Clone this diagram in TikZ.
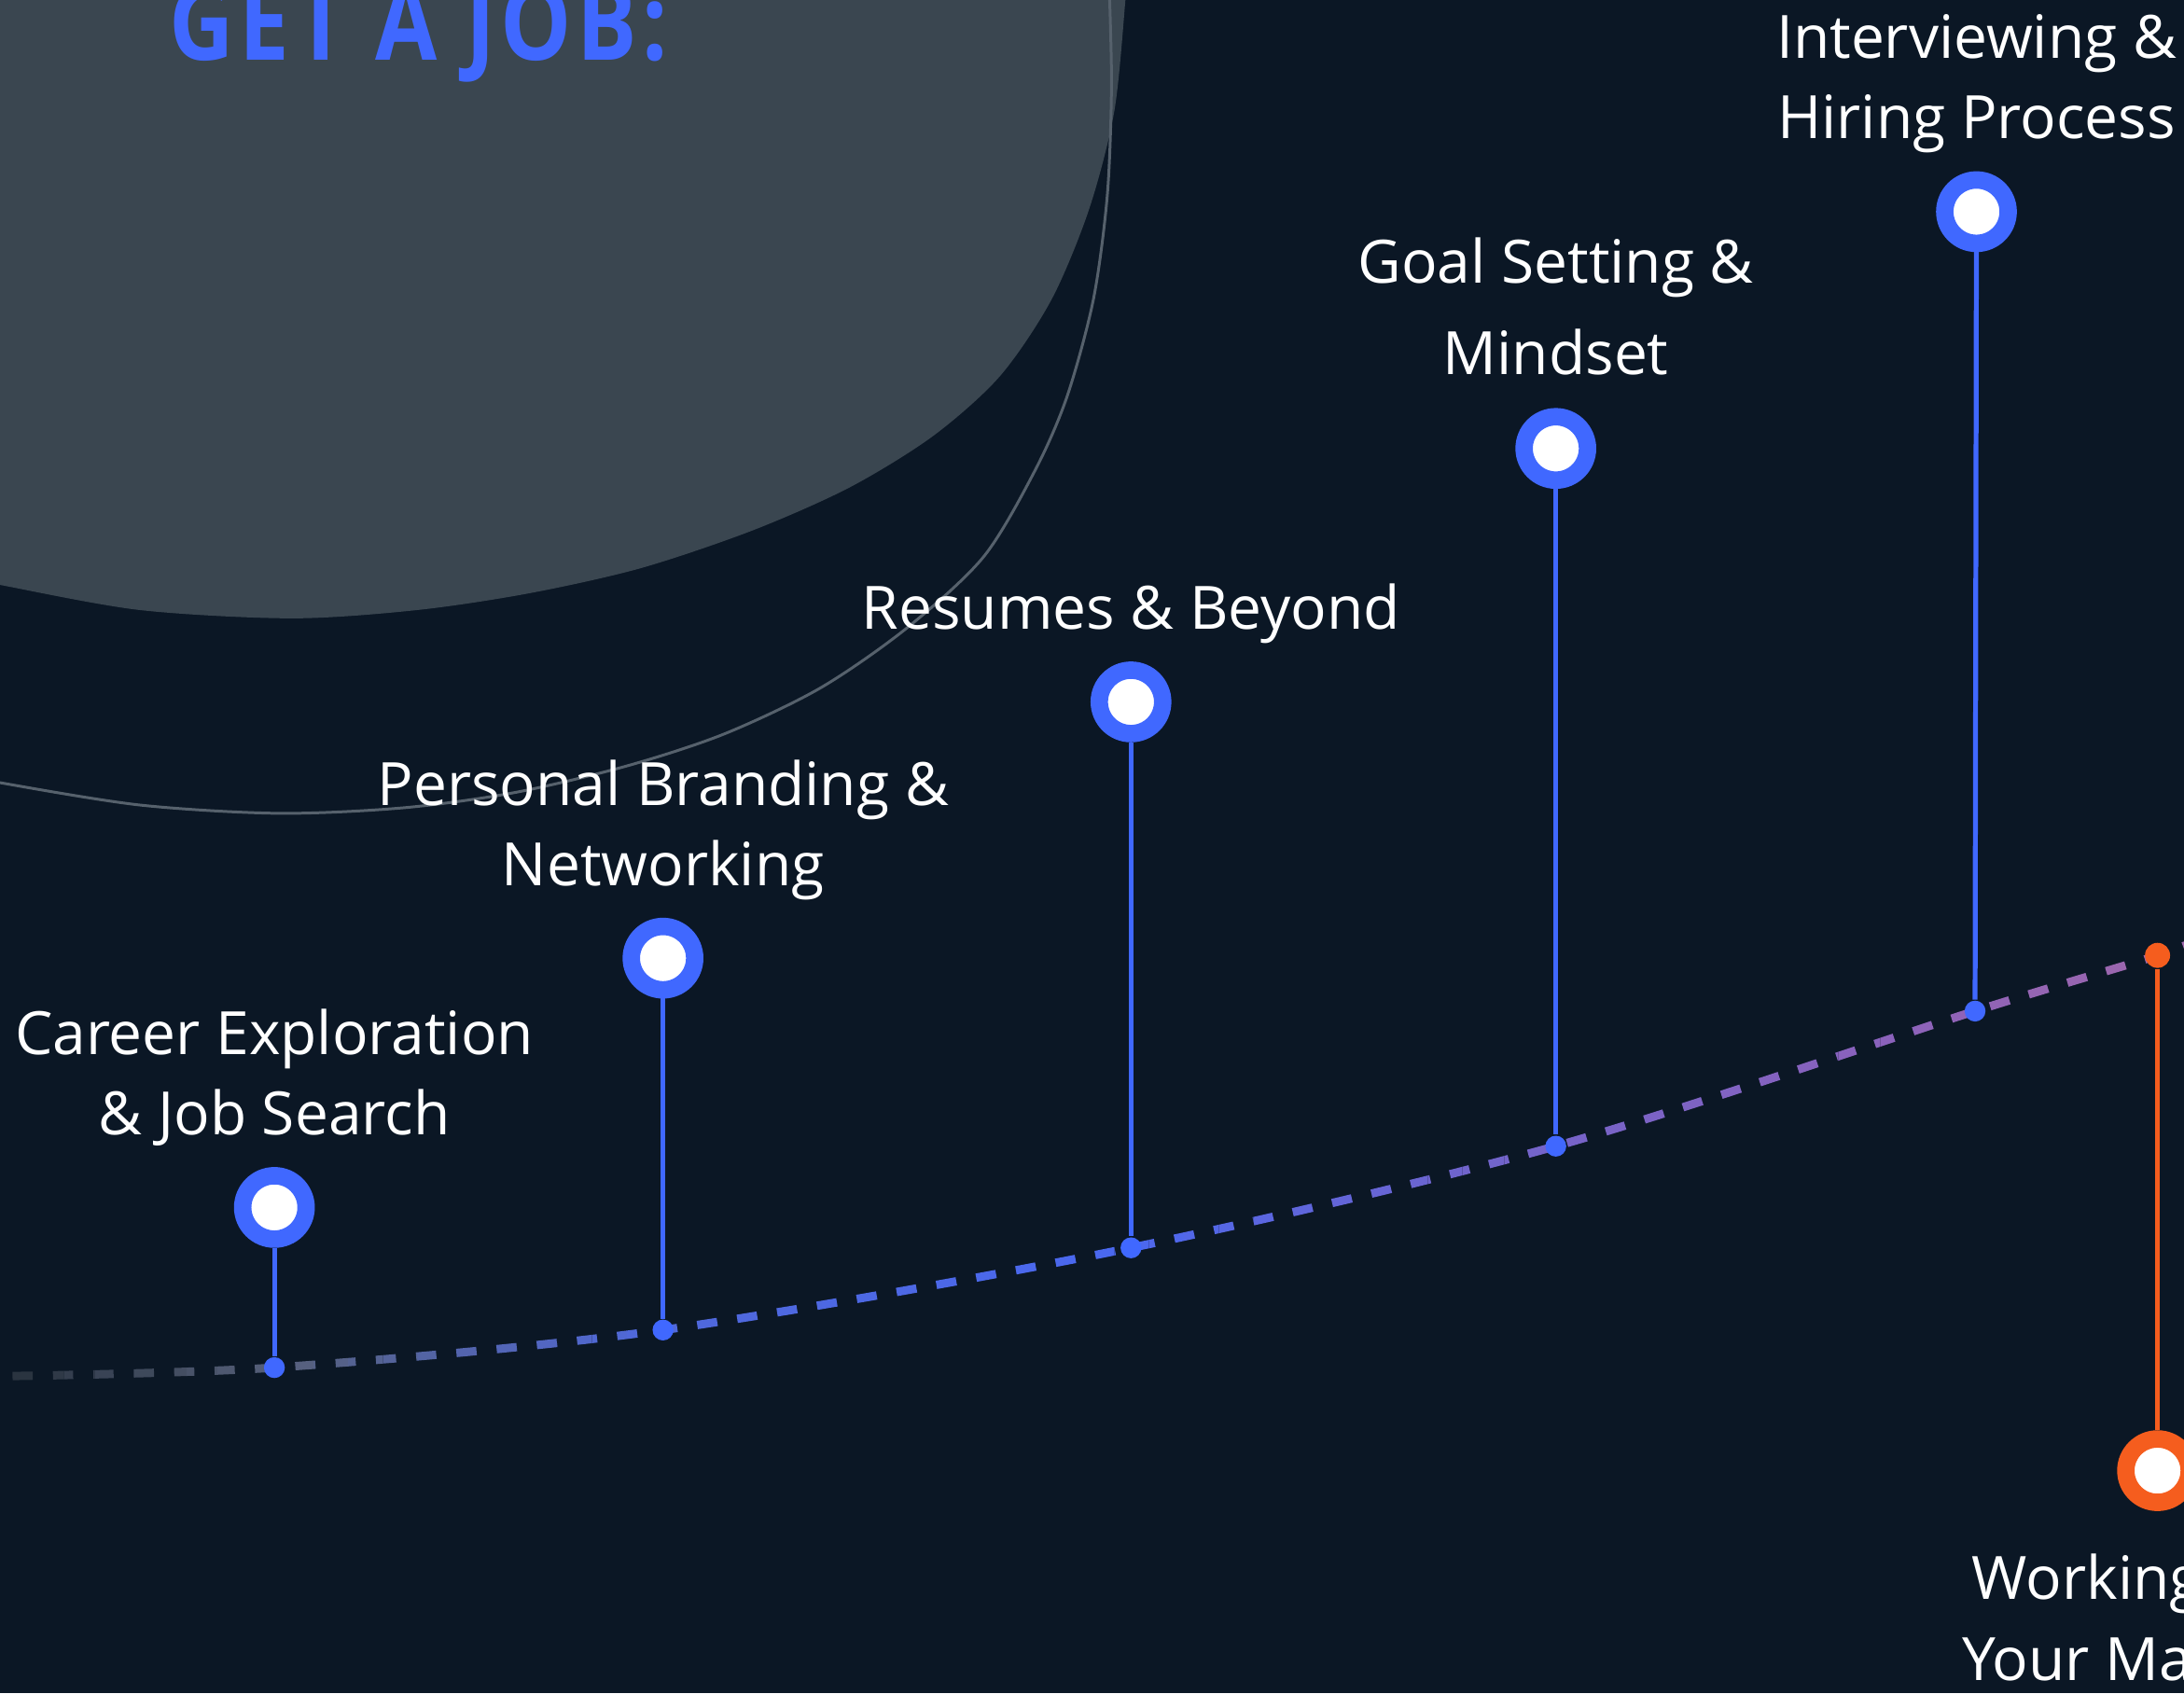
\documentclass[tikz,border=0pt]{standalone}
\usepackage{fontspec}
\setmainfont{Open Sans}
\newfontfamily\titlefont{Open Sans}[FakeStretch=0.85,LetterSpace=5]
\usetikzlibrary{positioning}

\definecolor{navy}{HTML}{0B1725}
\definecolor{blobgray}{HTML}{3A4650}
\definecolor{arcgray}{HTML}{56616C}
\definecolor{ringblue}{HTML}{4068FF}
\definecolor{ringorange}{HTML}{F55D1E}
\definecolor{trackA}{HTML}{222C36}
\definecolor{trackB}{HTML}{56607A}
\definecolor{trackC}{HTML}{5068D8}
\definecolor{trackD}{HTML}{4A68F0}
\definecolor{trackE}{HTML}{7064CC}
\definecolor{trackF}{HTML}{8A62BC}
\definecolor{trackG}{HTML}{A268A8}

\tikzstyle{milestone}=[circle,draw=ringblue,fill=white,line width=0.125cm,minimum size=0.455cm,inner sep=0pt]
\tikzstyle{dot}=[circle,fill=ringblue,minimum size=0.15cm,inner sep=0pt]
\tikzstyle{stem}=[draw=ringblue,line width=0.035cm]
\tikzstyle{steplabel}=[text=white,align=center,inner sep=0pt,anchor=base,font=\fontsize{12.2}{16.4}\selectfont]
\tikzstyle{track}=[line width=0.06cm,dash pattern=on 0.145cm off 0.145cm]

\newcommand\trackcurve{plot[smooth,tension=0.5] coordinates {(-20,988.5) (197,982) (476,955) (812,896) (1117,823) (1418,726) (1549,686) (1600,666)}}

\begin{document}
\begin{tikzpicture}[x=0.01cm,y=-0.01cm]
  \useasboundingbox (0,0) rectangle (1568,1216);
  \fill[navy] (0,0) rectangle (1568,1216);
  \begin{scope}
    \clip (0,0) rectangle (1568,1216);
    % gray blob and thin arc
    \fill[blobgray] plot[smooth] coordinates {(-30,414) (0,420) (100,438) (210,444) (300,438) (380,426) (460,408) (540,381) (610,350) (670,313) (718,270) (755,215) (782,150) (800,80) (808,0) (810,-30)} -- (-30,-30) -- cycle;
    \draw[arcgray,line width=0.02cm] plot[smooth] coordinates {(796,-20) (798,60) (795,140) (785,215) (766,285) (743,338) (706,400) (651,451) (589,494) (520,527) (450,550) (370,569) (290,580) (200,584) (100,578) (0,562) (-20,557)};
    % dashed track, coloured strip by strip
    \foreach \xa/\xb/\ca/\cb in {-20/200/trackA/trackB, 200/450/trackB/trackC, 450/800/trackC/trackD, 800/1050/trackD/trackE, 1050/1350/trackE/trackF, 1350/1600/trackF/trackG} {
      \foreach \k in {0,...,9} {
        \pgfmathtruncatemacro\mixpct{100-10*\k-5}
        \colorlet{segcol}{\ca!\mixpct!\cb}
        \begin{scope}
          \clip ({\xa+\k*(\xb-\xa)/10},0) rectangle ({\xa+(\k+1)*(\xb-\xa)/10},1216);
          \draw[track,segcol] \trackcurve;
        \end{scope}
      }
    }
  \end{scope}

  % dots on the track
  \node[dot] (d1) at (197,982) {};
  \node[dot] (d2) at (476,955) {};
  \node[dot] (d3) at (812,896) {};
  \node[dot] (d4) at (1117,823) {};
  \node[dot] (d5) at (1418,726) {};
  \node[dot,fill=ringorange,minimum size=0.18cm] (d6) at (1549,686) {};

  % milestones
  \node[milestone] (m1) at (197,867) {};
  \node[milestone] (m2) at (476,688) {};
  \node[milestone] (m3) at (812,504) {};
  \node[milestone] (m4) at (1117,322) {};
  \node[milestone] (m5) at (1419,152) {};
  \node[milestone,draw=ringorange] (m6) at (1549,1056) {};

  \draw[stem] (m1) -- (d1);
  \draw[stem] (m2) -- (d2);
  \draw[stem] (m3) -- (d3);
  \draw[stem] (m4) -- (d4);
  \draw[stem] (m5) -- (d5);
  \draw[stem,draw=ringorange] (m6) -- (d6);

  % labels (base = last line)
  \node[steplabel] (l1) at (197,815) {Career Exploration\\\& Job Search};
  \node[steplabel] (l2) at (476,636) {Personal Branding \&\\Networking};
  \node[steplabel] (l3) at (812,452) {Resumes \& Beyond};
  \node[steplabel,font=\fontsize{12.2}{18.6}\selectfont] (l4) at (1117,269) {Goal Setting \&\\Mindset};
  \node[steplabel] (l5) at (1419,99.5) {Interviewing \&\\Hiring Process};
  \node[steplabel,anchor=base west] (l6a) at (1415,1148.7) {Working};
  \node[steplabel,anchor=base west] (l6b) at (1408,1206.7) {Your Ma};

  \node[anchor=base west,inner sep=0pt,text=ringblue,font=\titlefont\bfseries\fontsize{21.5}{24}\selectfont] (title) at (121,43.5) {GET A JOB:};
\end{tikzpicture}
\end{document}
